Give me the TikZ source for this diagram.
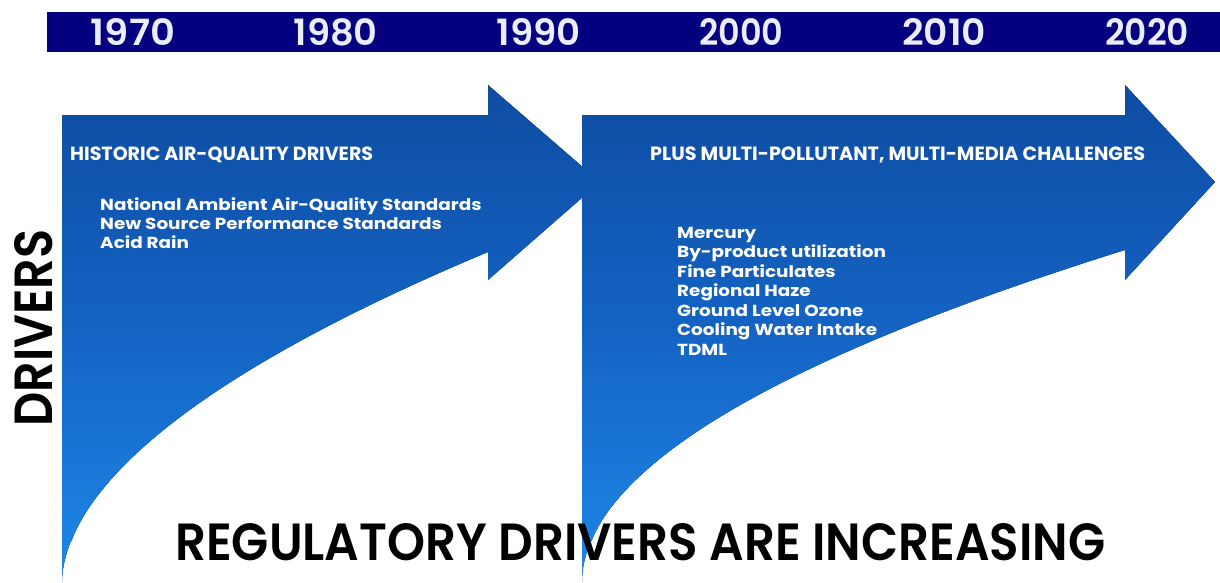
\documentclass[tikz,border=0pt]{standalone}
\usepackage{fontspec}
\setmainfont{Poppins}
\newfontfamily\popmedium{Poppins Medium}
\newfontfamily\popsemi{Poppins SemiBold}
\usepackage{graphicx}

\definecolor{barnavy}{RGB}{4,0,128}
\definecolor{yeartext}{RGB}{236,236,255}
\definecolor{arrowtop}{RGB}{14,76,162}
\definecolor{arrowmid}{RGB}{20,100,196}
\definecolor{arrowbot}{RGB}{30,136,232}

% fit a text to a given width (and optionally height), in pt
\newcommand{\fitw}[2]{\resizebox{#1pt}{!}{#2}}
\newcommand{\fitwh}[3]{\resizebox{#1pt}{#2pt}{#3}}
% list entries are set a little wider than the font's own shapes
\newcommand{\itm}[1]{\scalebox{1.15}[1]{#1}}

\begin{document}
\begin{tikzpicture}[x=1pt,y=-1pt,
  yearlabel/.style={text=yeartext, font=\popsemi, inner sep=0pt, anchor=base},
  arrowtext/.style={text=white, font=\bfseries, inner sep=0pt, anchor=base west},
  itemtext/.style={text=white, font=\bfseries\fontsize{16}{19}\selectfont, inner sep=0pt, anchor=base west},
  bigtext/.style={text=black, font=\popsemi, inner sep=0pt},
  bluearrow/.style={top color=arrowtop, bottom color=arrowbot, middle color=arrowmid}]

\useasboundingbox (0,0) rectangle (1220,582);
\fill[white] (0,0) rectangle (1220,582);

% timeline bar
\fill[barnavy] (47,12) rectangle (1220,52);
\foreach \yr [count=\i from 0] in {1970,1980,1990,2000,2010,2020}
  \node[yearlabel] (y\yr) at ({133+202.8*\i},45) {\fitwh{84}{27}{\yr}};

% first arrow: historic drivers
\fill[bluearrow] (62,582) -- (62,115) -- (488,115) -- (488,85) -- (600,182)
  -- (488,280) -- (488,252)
  -- plot[domain=1:0.001, samples=120] ({62+426*(\x)^1.85},{582-330*\x}) -- cycle;

% second arrow: multi-pollutant challenges
\fill[bluearrow] (582,582) -- (582,115) -- (1125,115) -- (1125,85) -- (1215,182)
  -- (1125,280) -- (1125,250)
  -- plot[domain=1:0.001, samples=120] ({582+543*(\x)^1.96},{582-332*\x}) -- cycle;

% texts on the first arrow
\node[arrowtext] (h1) at (70,160) {\fitw{303}{HISTORIC AIR-QUALITY DRIVERS}};
\node[itemtext] (a1) at (100,210) {\itm{National Ambient Air-Quality Standards}};
\node[itemtext] (a2) at (100,229) {\itm{New Source Performance Standards}};
\node[itemtext] (a3) at (100,248) {\itm{Acid Rain}};

% texts on the second arrow
\node[arrowtext] (h2) at (650,160) {\fitw{495}{PLUS MULTI-POLLUTANT, MULTI-MEDIA CHALLENGES}};
\node[itemtext] (b1) at (677,238) {\itm{Mercury}};
\node[itemtext] (b2) at (677,257.5) {\itm{By-product utilization}};
\node[itemtext] (b3) at (677,277) {\itm{Fine Particulates}};
\node[itemtext] (b4) at (677,296.5) {\itm{Regional Haze}};
\node[itemtext] (b5) at (677,316) {\itm{Ground Level Ozone}};
\node[itemtext] (b6) at (677,335.5) {\itm{Cooling Water Intake}};
\node[itemtext] (b7) at (677,355) {\itm{TDML}};

% axis label and title
\node[bigtext, rotate=90] (drivers) at (34,328) {\fitwh{197}{38}{DRIVERS}};
\node[bigtext, anchor=base west] (title) at (175,560)
  {\fitwh{930}{37}{REGULATORY DRIVERS ARE INCREASING}};
\end{tikzpicture}
\end{document}
